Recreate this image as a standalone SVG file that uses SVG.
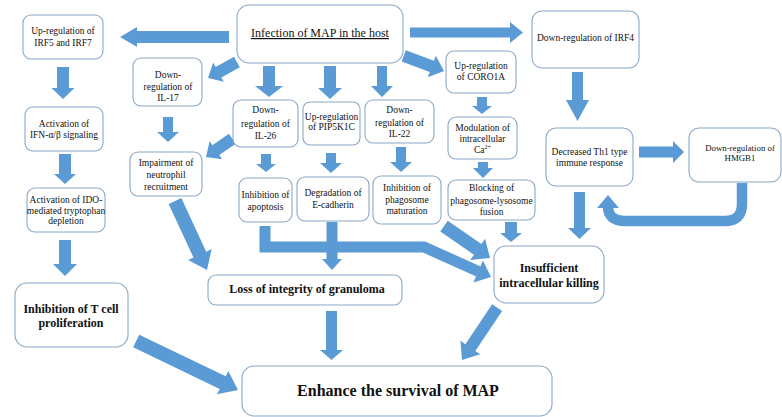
<svg xmlns="http://www.w3.org/2000/svg" width="782" height="417" viewBox="0 0 782 417">
<style>
.box{fill:#fff;stroke:#8aa8c8;stroke-width:1.1}
.ar{fill:#5b9bd5}
.sh{fill:none;stroke:#5b9bd5}
text{font-family:'Liberation Serif','Times New Roman','DejaVu Serif',serif;fill:#111;text-anchor:middle}
.t{font-size:9.5px}
.s{font-size:8.8px}
.b{font-size:12px;font-weight:bold}
.big{font-size:16px;font-weight:bold}
.h{font-size:12px;text-decoration:underline}
</style>
<rect width="782" height="417" fill="#fff"/>
<g id="connectors">
<polygon class="ar" points="57,67 69,67 69,88 74.5,88 63,99 51.5,88 57,88"/>
<polygon class="ar" points="59,154 71,154 71,174 76,174 65,184 54,174 59,174"/>
<polygon class="ar" points="59,240 71,240 71,264 77,264 65,276 53,264 59,264"/>
<polygon class="ar" points="163,117 173,117 173,132 179,132 168,142 157,132 163,132"/>
<polygon class="ar" points="263,66 275,66 275,86 283,86 269,97 255,86 263,86"/>
<polygon class="ar" points="324,66 336,66 336,88 342,88 330,99 318,88 324,88"/>
<polygon class="ar" points="377,66 387,66 387,86 393,86 382,97 371,86 377,86"/>
<polygon class="ar" points="261,154 271,154 271,164 276,164 266,172 256,164 261,164"/>
<polygon class="ar" points="326,153 336,153 336,163 342,163 331,173 320,163 326,163"/>
<polygon class="ar" points="396,147 406,147 406,162 412,162 401,172 390,162 396,162"/>
<polygon class="ar" points="477,97 487,97 487,106 492,106 482,114 472,106 477,106"/>
<polygon class="ar" points="478,162 488,162 488,168 493,168 483,178 473,168 478,168"/>
<polygon class="ar" points="572,72 583,72 583,100 589,100 577.5,121 566,100 572,100"/>
<polygon class="ar" points="574,192 585,192 585,228 591,228 579.5,239 568,228 574,228"/>
<polygon class="ar" points="505,222 517,222 517,233 522,233 511,242 500,233 505,233"/>
<polygon class="ar" points="326.5,222 337.5,222 337.5,259 342,259 332,270 322,259 326.5,259"/>
<polygon class="ar" points="326,311 337,311 337,350 343,350 331.5,360 320,350 326,350"/>
<polygon class="ar" points="229,31 229,43 137,43 137,47 120,37 137,27 137,31"/>
<polygon class="ar" points="410,27.5 510,27.5 510,22 523,32.5 510,43 510,37.5 410,37.5"/>
<polygon class="ar" points="639,146.5 673,146.5 673,141 684,152 673,163 673,157.5 639,157.5"/>
<polygon class="ar" transform="translate(208,78) rotate(151.1)" points="-33,-6 -12,-6 -12,-11 0,0 -12,11 -12,6 -33,6"/>
<polygon class="ar" transform="translate(444,71) rotate(20.6)" points="-43,-6 -13,-6 -13,-11.5 0,0 -13,11.5 -13,6 -43,6"/>
<polygon class="ar" transform="translate(206,157) rotate(145.3)" points="-32,-6 -12,-6 -12,-11 0,0 -12,11 -12,6 -32,6"/>
<polygon class="ar" transform="translate(490,258) rotate(34.8)" points="-56,-6.5 -15,-6.5 -15,-13 0,0 -15,13 -15,6.5 -56,6.5"/>
<polygon class="ar" transform="translate(207,270) rotate(65.1)" points="-76,-7 -17,-7 -17,-13 0,0 -17,13 -17,7 -76,7"/>
<polygon class="ar" transform="translate(238,390) rotate(25.7)" points="-113,-7 -17,-7 -17,-13 0,0 -17,13 -17,7 -113,7"/>
<polygon class="ar" transform="translate(462,360) rotate(123.9)" points="-63,-6 -15,-6 -15,-12 0,0 -15,12 -15,6 -63,6"/>
<path class="sh" stroke-width="11" stroke-linejoin="miter" d="M265,226 V247 H424 L478.5,271.5"/>
<polygon class="ar" transform="translate(491,277) rotate(23.4)" points="0,0 -14,-12 -14,12"/>
<path class="sh" stroke-width="10.5" d="M742,183 V204 Q742,221 725,221 H625 Q608,221 608,206"/>
<polygon class="ar" points="597,208 619,208 608,195"/>
</g>
<g id="n_infection"><rect class="box" x="237" y="5" width="166" height="58" rx="12"/><text class="h" x="320" y="37">Infection of MAP in the host</text></g>
<g id="n_irf5"><rect class="box" x="23" y="15" width="80" height="44" rx="8"/><text class="t" x="63" y="34">Up-regulation of</text><text class="t" x="63" y="46">IRF5 and IRF7</text></g>
<g id="n_il17"><rect class="box" x="133" y="58" width="69" height="48" rx="8"/><text class="t" x="168" y="78">Down-</text><text class="t" x="168" y="90">regulation of</text><text class="t" x="168" y="101">IL-17</text></g>
<g id="n_ifn"><rect class="box" x="25" y="107" width="78" height="44" rx="8"/><text class="t" x="64" y="127">Activation of</text><text class="t" x="64" y="138">IFN-α/β signaling</text></g>
<g id="n_ido"><rect class="box" x="27" y="188" width="78" height="44" rx="8"/><text class="t" x="66" y="203">Activation of IDO-</text><text class="t" x="66" y="214">mediated tryptophan</text><text class="t" x="66" y="224">depletion</text></g>
<g id="n_tcell"><rect class="box" x="15" y="283" width="113" height="64" rx="12"/><text class="b" x="71" y="313">Inhibition of T cell</text><text class="b" x="71" y="327">proliferation</text></g>
<g id="n_neutrophil"><rect class="box" x="130" y="152" width="72" height="44" rx="8"/><text class="t" x="166" y="166">Impairment of</text><text class="t" x="166" y="178">neutrophil</text><text class="t" x="166" y="190">recruitment</text></g>
<g id="n_il26"><rect class="box" x="233" y="100" width="65" height="47" rx="8"/><text class="t" x="265.5" y="113">Down-</text><text class="t" x="265.5" y="127">regulation of</text><text class="t" x="265.5" y="139">IL-26</text></g>
<g id="n_pip5k1c"><rect class="box" x="303" y="102" width="57" height="43" rx="7"/><text class="t" x="331.5" y="120">Up-regulation</text><text class="t" x="331.5" y="130">of PIP5K1C</text></g>
<g id="n_il22"><rect class="box" x="365" y="100" width="69" height="43" rx="8"/><text class="t" x="399.5" y="113">Down-</text><text class="t" x="399.5" y="126">regulation of</text><text class="t" x="399.5" y="137">IL-22</text></g>
<g id="n_coro1a"><rect class="box" x="446" y="51" width="70" height="42" rx="8"/><text class="t" x="481" y="69">Up-regulation</text><text class="t" x="481" y="80">of CORO1A</text></g>
<g id="n_ca"><rect class="box" x="448" y="117" width="69" height="42" rx="8"/><text class="t" x="482.5" y="131">Modulation of</text><text class="t" x="482.5" y="142">intracellular</text><text class="t" x="482.5" y="153">Ca<tspan font-size="6" dy="-4">2+</tspan></text></g>
<g id="n_blocking"><rect class="box" x="448" y="180" width="87" height="40" rx="8"/><text class="t" x="491.5" y="191">Blocking of</text><text class="t" x="491.5" y="204">phagosome-lysosome</text><text class="t" x="491.5" y="215">fusion</text></g>
<g id="n_irf4"><rect class="box" x="532" y="11" width="107" height="57" rx="10"/><text class="t" x="585.5" y="41">Down-regulation of IRF4</text></g>
<g id="n_th1"><rect class="box" x="546" y="128" width="87" height="58" rx="10"/><text class="t" x="589.5" y="155">Decreased Th1 type</text><text class="t" x="589.5" y="166">immune response</text></g>
<g id="n_hmgb1"><rect class="box" x="689" y="128" width="92" height="54" rx="10"/><text class="s" x="740" y="151">Down-regulation of</text><text class="s" x="740" y="161">HMGB1</text></g>
<g id="n_apoptosis"><rect class="box" x="239" y="178" width="53" height="44" rx="8"/><text class="t" x="265.5" y="198">Inhibition of</text><text class="t" x="265.5" y="210">apoptosis</text></g>
<g id="n_ecadherin"><rect class="box" x="297" y="177" width="72" height="44" rx="8"/><text class="t" x="333" y="196">Degradation of</text><text class="t" x="333" y="208">E-cadherin</text></g>
<g id="n_phagosome"><rect class="box" x="373" y="176" width="68" height="48" rx="8"/><text class="t" x="407" y="191">Inhibition of</text><text class="t" x="407" y="203">phagosome</text><text class="t" x="407" y="214">maturation</text></g>
<g id="n_granuloma"><rect class="box" x="208" y="275" width="194" height="30" rx="8"/><text class="b" x="307" y="293">Loss of integrity of granuloma</text></g>
<g id="n_killing"><rect class="box" x="494" y="246" width="110" height="57" rx="12"/><text class="b" x="549" y="272">Insufficient</text><text class="b" x="549" y="287">intracellular killing</text></g>
<g id="n_survival"><rect class="box" x="242" y="366" width="310" height="50" rx="12"/><text class="big" x="398" y="396">Enhance the survival of MAP</text></g>
</svg>
